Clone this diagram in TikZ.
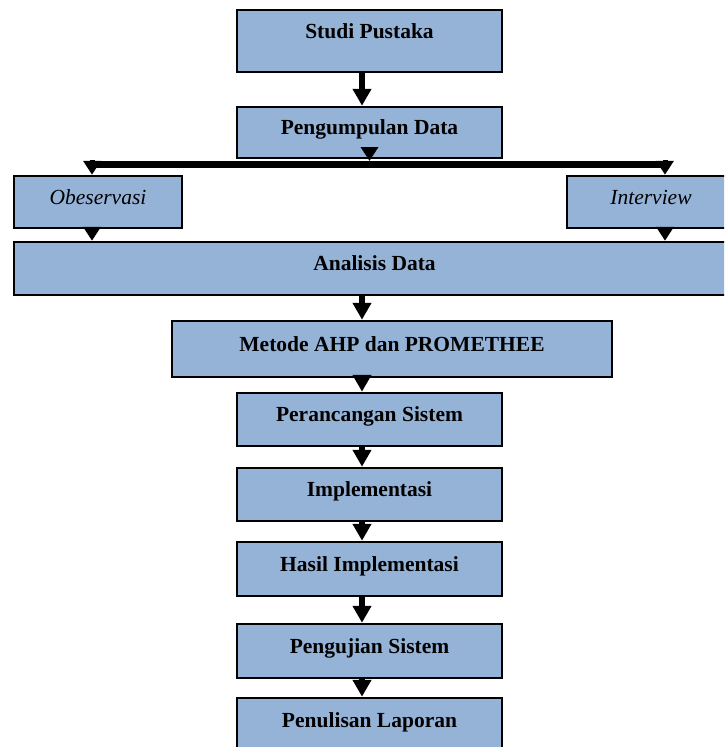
\documentclass[tikz,border=0pt]{standalone}
\usepackage{fontspec}
\setmainfont{Liberation Serif}
\usetikzlibrary{arrows.meta}
\definecolor{boxblue}{HTML}{95B3D7}
\begin{document}
\begin{tikzpicture}[x=1pt,y=-1pt,
  box/.style={draw=black, line width=2.5pt, fill=boxblue, inner sep=0pt,
    text height=15pt, text depth=11pt,
    font=\fontsize{21.5}{25}\selectfont\bfseries},
  ibox/.style={box, font=\fontsize{21.5}{25}\selectfont\itshape},
  bigarrow/.style={line width=6.5pt, -{Triangle[width=18pt,length=17pt]}},
  smallarrow/.style={line width=5pt, -{Triangle[width=17pt,length=14pt]}},
  barline/.style={line width=6.5pt},
]
\useasboundingbox (0,0) rectangle (724,747);
\clip (0,0) rectangle (724,747);

% boxes
\node[box, minimum width=265pt, minimum height=62pt, text depth=21pt] (studi) at (369.5,41) {Studi Pustaka};
\node[box, minimum width=265pt, minimum height=51pt] (kumpul) at (369.5,132.5) {Pengumpulan Data};
\node[ibox, minimum width=168pt, minimum height=52pt] (obs) at (98,202) {Obeservasi};
\node[ibox, minimum width=168pt, minimum height=52pt] (intv) at (651,202) {Interview};
\node[box, minimum width=721pt, minimum height=53pt] (ana) at (374.5,268.5) {Analisis Data};
\node[box, minimum width=440pt, minimum height=56pt] (metode) at (392,349) {Metode AHP dan PROMETHEE};
\node[box, minimum width=265pt, minimum height=53pt] (rancang) at (369.5,419.5) {Perancangan Sistem};
\node[box, minimum width=265pt, minimum height=53pt] (impl) at (369.5,494.5) {Implementasi};
\node[box, minimum width=265pt, minimum height=54pt] (hasil) at (369.5,569) {Hasil Implementasi};
\node[box, minimum width=265pt, minimum height=54pt] (uji) at (369.5,651) {Pengujian Sistem};
\node[box, minimum width=265pt, minimum height=54pt] (tulis) at (369.5,725) {Penulisan Laporan};

% helper coordinates
\coordinate (ax) at (362,0);
\coordinate (barL) at (92,164.5);
\coordinate (barR) at (665,164.5);
\coordinate (bl) at (92,160);
\coordinate (br) at (665,160);
\coordinate (bm) at (369.5,161);

% connectors
\draw[bigarrow] (studi.south -| ax) -- (kumpul.north -| ax);
\draw[barline] (barL) -- (barR);
\draw[smallarrow] ([yshift=12pt]kumpul.south) -- (bm);
\draw[smallarrow] (bl) -- (bl |- obs.north);
\draw[smallarrow] (br) -- (br |- intv.north);
\draw[smallarrow] (obs.south -| bl) -- (bl |- ana.north);
\draw[smallarrow] (intv.south -| br) -- (br |- ana.north);
\draw[bigarrow] (ana.south -| ax) -- (metode.north -| ax);
\draw[bigarrow] (metode.south -| ax) -- (rancang.north -| ax);
\draw[bigarrow] (rancang.south -| ax) -- (impl.north -| ax);
\draw[bigarrow] (impl.south -| ax) -- (hasil.north -| ax);
\draw[bigarrow] (hasil.south -| ax) -- (uji.north -| ax);
\draw[bigarrow] (uji.south -| ax) -- (tulis.north -| ax);
\end{tikzpicture}
\end{document}
